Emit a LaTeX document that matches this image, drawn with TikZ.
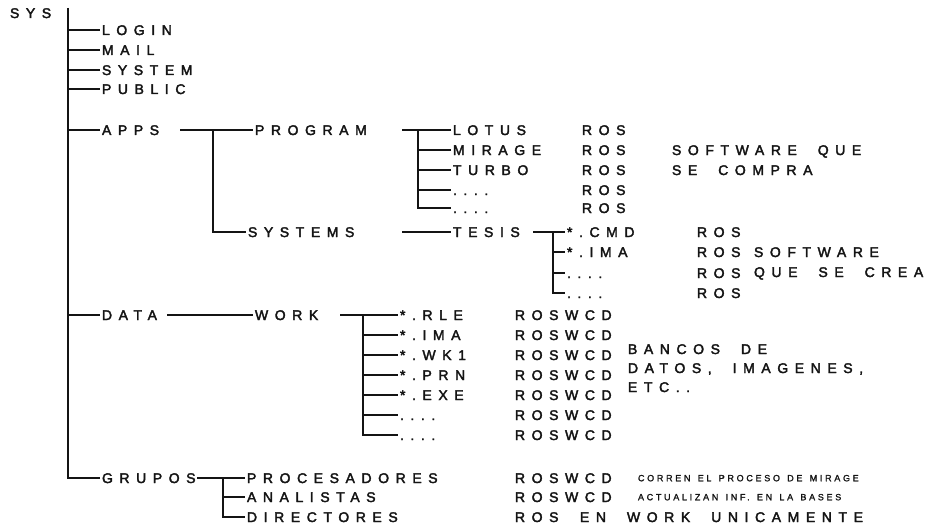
\documentclass[tikz,border=0pt]{standalone}
\usepackage{fontspec}
\setmainfont{Liberation Sans}
\newfontfamily\treefont[LetterSpace=47, WordSpace=2, FakeBold=2.5]{Liberation Sans}
\newfontfamily\notefont[LetterSpace=30, WordSpace=1.4, FakeBold=1.5]{Liberation Sans}
\definecolor{tInk}{HTML}{141414}
\newcommand{\fourdots}{....}

\begin{document}
\begin{tikzpicture}[
  x=1pt, y=-1pt,
  tree/.style={draw=tInk, line width=1.5pt},
  entry/.style={anchor=west, inner sep=0pt, outer xsep=2pt, text height=10pt,
    text depth=0pt, text=tInk, font=\treefont\fontsize{14}{16}\selectfont},
  note/.style={entry, text height=6.5pt, font=\notefont\fontsize{9}{11}\selectfont},
]
\useasboundingbox (0,0) rectangle (943,527);

% ---- root and first level ------------------------------------------------
\node[entry] (sys) at (8,13) {SYS};
\foreach \n/\t/\y in {login/LOGIN/30, mail/MAIL/50, system/SYSTEM/70,
    public/PUBLIC/89, apps/APPS/130, data/DATA/315, grupos/GRUPOS/478}
  \node[entry] (\n) at (100,\y) {\t};

\coordinate (trunk) at (68,8);
\draw[tree] (trunk) |- (grupos.west);
\foreach \n in {login,mail,system,public,apps,data}
  \draw[tree] (trunk |- \n.west) -- (\n.west);

% ---- APPS ----------------------------------------------------------------
\node[entry] (program) at (253,130) {PROGRAM};
\node[entry] (systems) at (246,232) {SYSTEMS};
\coordinate (appsout)  at (180,130);
\coordinate (appsfork) at (213,130);
\draw[tree] (appsout) -- (program.west);
\draw[tree] (appsfork) |- (systems.west);

% purchased software
\foreach \n/\t/\y in {lotus/LOTUS/130, mirage/MIRAGE/150, turbo/TURBO/170,
    pdots/\fourdots/190, pdotss/\fourdots/208}{%
  \node[entry] (\n) at (451,\y) {\t};
  \node[entry] (\n-r) at (580,\y) {ROS};}
\coordinate (progout)  at (402,130);
\coordinate (progfork) at (418,130);
\draw[tree] (progout) -- (lotus.west);
\draw[tree] (progfork) |- (pdotss.west);
\foreach \n in {mirage,turbo,pdots}
  \draw[tree] (progfork |- \n.west) -- (\n.west);
\node[entry] (buy1) at (670,150) {SOFTWARE QUE};
\node[entry] (buy2) at (670,170) {SE COMPRA};

% own software
\node[entry] (tesis) at (451,232) {TESIS};
\coordinate (sysout) at (402,232);
\draw[tree] (sysout) -- (tesis.west);
\foreach \n/\t/\y in {cmd/*.CMD/232, tima/*.IMA/252, tdots/\fourdots/273,
    tdotss/\fourdots/293}{%
  \node[entry] (\n) at (565,\y) {\t};
  \node[entry] (\n-r) at (695,\y) {ROS};}
\coordinate (tesisout)  at (533,232);
\coordinate (tesisfork) at (553,232);
\draw[tree] (tesisout) -- (cmd.west);
\draw[tree] (tesisfork) |- (tdotss.west);
\foreach \n in {tima,tdots}
  \draw[tree] (tesisfork |- \n.west) -- (\n.west);
\node[entry] (made1) at (752,252) {SOFTWARE};
\node[entry] (made2) at (752,272) {QUE SE CREA};

% ---- DATA ----------------------------------------------------------------
\node[entry] (work) at (253,315) {WORK};
\coordinate (dataout) at (167,315);
\draw[tree] (dataout) -- (work.west);
\foreach \n/\t/\y in {rle/*.RLE/315, wima/*.IMA/335, wk/*.WK1/355,
    prn/*.PRN/375, exe/*.EXE/395, wdots/\fourdots/415, wdotss/\fourdots/435}{%
  \node[entry] (\n) at (398,\y) {\t};
  \node[entry] (\n-r) at (513,\y) {ROSWCD};}
\coordinate (workout)  at (340,315);
\coordinate (workfork) at (363,315);
\draw[tree] (workout) -- (rle.west);
\draw[tree] (workfork) |- (wdotss.west);
\foreach \n in {wima,wk,prn,exe,wdots}
  \draw[tree] (workfork |- \n.west) -- (\n.west);
\node[entry] (bank1) at (626,349) {BANCOS DE};
\node[entry] (bank2) at (626,368) {DATOS, IMAGENES,};
\node[entry] (bank3) at (626,387) {ETC..};

% ---- GRUPOS --------------------------------------------------------------
\foreach \n/\t/\r/\y in {proc/PROCESADORES/ROSWCD/478,
    anal/ANALISTAS/ROSWCD/497, dir/DIRECTORES/ROS/517}{%
  \node[entry] (\n) at (245,\y) {\t};
  \node[entry] (\n-r) at (513,\y) {\r};}
\coordinate (grupout)  at (197,478);
\coordinate (grupfork) at (223,478);
\draw[tree] (grupout) -- (proc.west);
\draw[tree] (grupfork) |- (dir.west);
\draw[tree] (grupfork |- anal.west) -- (anal.west);
\node[note]  (procnote) at (636,478) {CORREN EL PROCESO DE MIRAGE};
\node[note]  (analnote) at (636,497) {ACTUALIZAN INF. EN LA BASES};
\node[entry] (dirnote)  at (578,517) {EN WORK UNICAMENTE};
\end{tikzpicture}
\end{document}
